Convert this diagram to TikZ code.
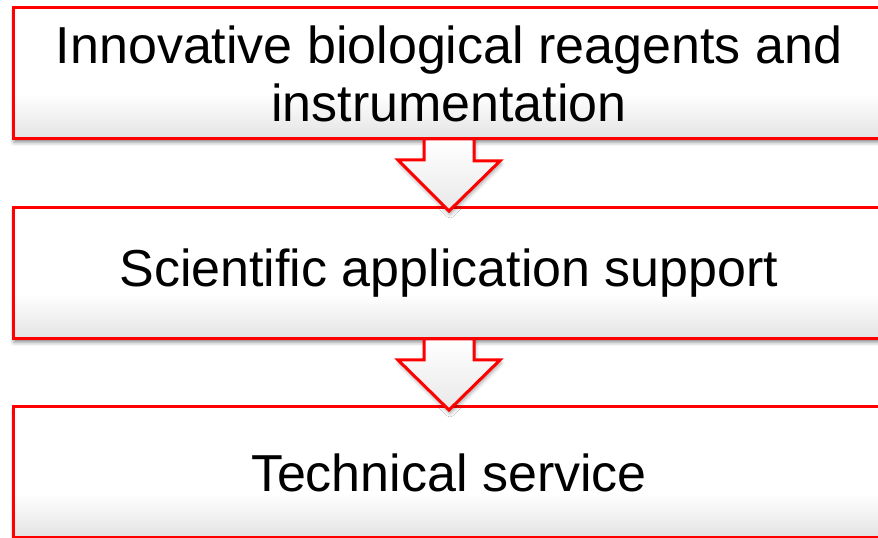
\documentclass[tikz,border=0pt]{standalone}
\usepackage{fontspec}
\setmainfont{Liberation Sans}
\usetikzlibrary{positioning,shadows.blur}
\colorlet{stage-border}{red}
\colorlet{stage-shade}{black!11}
\colorlet{flow-shade}{black!9}
\pgfdeclareverticalshading{stagefill}{100bp}{color(0bp)=(stage-shade); color(25bp)=(stage-shade); color(42bp)=(white); color(100bp)=(white)}
\pgfdeclareverticalshading{flowfill}{100bp}{color(0bp)=(flow-shade); color(25bp)=(flow-shade); color(75bp)=(white); color(100bp)=(white)}

\begin{document}
\begin{tikzpicture}[
	stage/.style={draw=stage-border, line width=3pt, outer sep=0pt, inner sep=0pt,
		shading=stagefill,
		minimum width=872pt, minimum height=131pt, align=center,
		font=\fontsize{52}{58}\selectfont,
		blur shadow={shadow xshift=1pt, shadow yshift=-3pt, shadow blur radius=4pt, shadow opacity=50}},
	flow/.style={draw=stage-border, line width=3pt, line join=miter,
		shading=flowfill,
		blur shadow={shadow xshift=1pt, shadow yshift=-3pt, shadow blur radius=4pt, shadow opacity=40}}
]
	\useasboundingbox (0,0) rectangle (878pt,538pt);
	\node[stage] (reagents) at (449pt,464.5pt) {Innovative biological reagents and\\instrumentation};
	\node[stage, below=69pt of reagents] (support) {Scientific application support};
	\node[stage, below=68pt of support] (service) {Technical service};
	% block arrows between the stages
	\draw[flow] ([xshift=-25pt]reagents.south) -- ++(0,-21pt) -- ++(-26pt,0)
		-- ([yshift=-3pt]support.north) -- ++(51pt,50pt) -- ++(-26pt,0)
		-- ([xshift=25pt]reagents.south) -- cycle;
	\draw[flow] ([xshift=-25pt]support.south) -- ++(0,-21pt) -- ++(-26pt,0)
		-- ([yshift=-3pt]service.north) -- ++(51pt,50pt) -- ++(-26pt,0)
		-- ([xshift=25pt]support.south) -- cycle;
\end{tikzpicture}
\end{document}
